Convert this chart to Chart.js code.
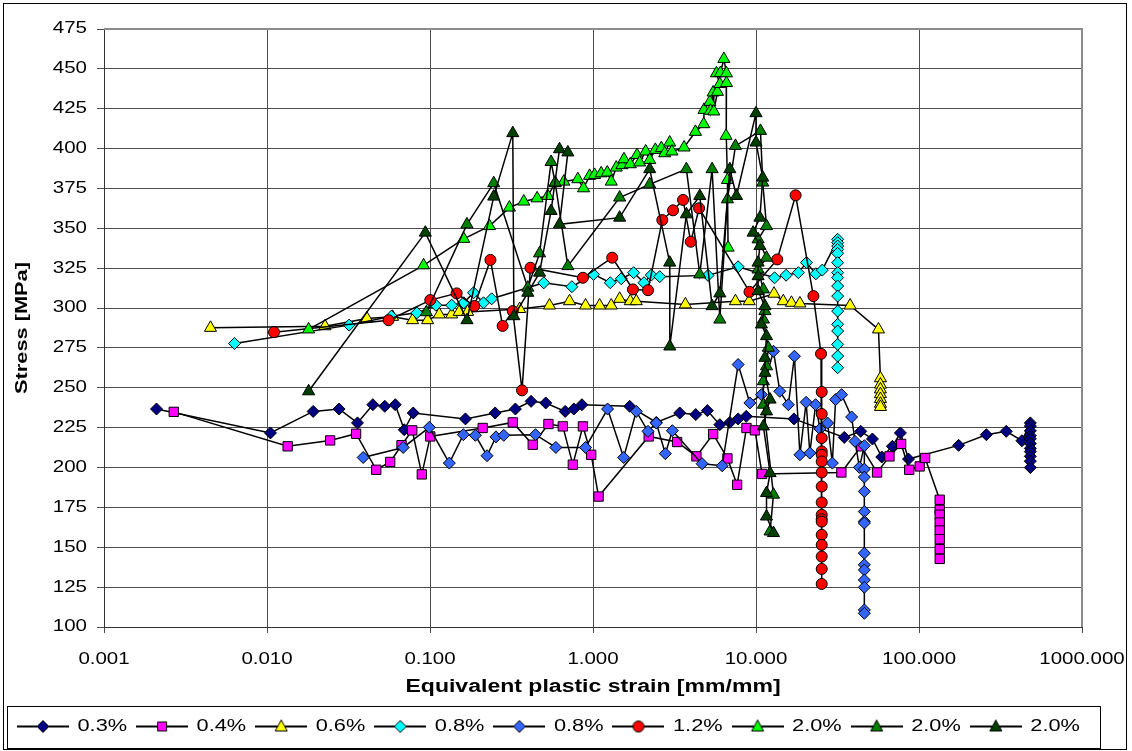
<!DOCTYPE html>
<html lang="en">
<head>
  <meta charset="UTF-8" />
  <title>Stress vs equivalent plastic strain</title>
  <script src="https://cdn.jsdelivr.net/npm/chart.js"></script>
  <style>
    html, body { margin: 0; padding: 0; background: #fff; }
    canvas { display: block; }
  </style>
</head>
<body>
  <canvas id="chart" width="1132" height="751"></canvas>

  <script>
    // axis ticks
    const strainTicks = [0.001, 0.01, 0.1, 1, 10, 100, 1000];
    const stressMin = 100, stressMax = 475, stressStep = 25;

    // 0.3 %
    const s03Strain = [0.0021, 0.0105, 0.0192, 0.0277, 0.0359, 0.0446, 0.0528, 0.0612, 0.0695, 0.0789,
      0.165, 0.251, 0.334, 0.417, 0.513, 0.675, 0.763, 0.855, 1.679, 2.445,
      3.405, 4.27, 5.03, 6.0, 6.91, 7.77, 8.71, 17.1, 34.8, 43.9,
      51.8, 59.1, 68.7, 76.9, 86.2, 175, 259, 343, 428,
      482, 482, 482, 482, 482, 482, 482, 482, 482, 482, 482];
    const s03Stress = [236.7, 221.7, 235.2, 236.7, 228, 239.4, 238.4, 239.4, 223.7, 234.2,
      230.5, 234.2, 236.7, 241.5, 240.5, 235.2, 236.7, 239.4, 238.4, 228.3,
      234.2, 233.2, 235.7, 226.9, 228.3, 230.5, 232.1, 230.5, 218.9, 222.7,
      217.9, 206.6, 213.3, 221.7, 205.3, 213.9, 220.6, 222.7, 216.8,
      228, 226, 223, 220, 218, 215, 212, 210, 207, 204, 200];

    // 0.4 %
    const s04Strain = [0.00268, 0.01339, 0.0244, 0.0352, 0.0468, 0.057, 0.0669, 0.0778, 0.0891, 0.1004,
      0.2105, 0.322, 0.427, 0.533, 0.653, 0.752, 0.867, 0.975, 1.082, 2.196,
      3.28, 4.31, 5.46, 6.68, 7.66, 8.74, 9.85, 10.9, 33.4, 44.1,
      55.3, 65.9, 77.7, 87.1, 101, 109,
      134, 134, 134, 134, 134, 134, 134, 134];
    const s04Stress = [234.9, 213.3, 217, 221.2, 198.6, 203.5, 214, 223.3, 195.7, 219.5,
      224.8, 228.3, 214.3, 227.3, 225.8, 201.8, 225.8, 208, 181.8, 219.5,
      216, 207, 221, 205.7, 189.2, 224.8, 223.3, 196, 196.9, 213.3,
      196.9, 207, 214.8, 198.6, 200.7, 206,
      179.8, 173.5, 170.4, 165.5, 160.5, 155.1, 148.8, 142.7];

    // 0.6 %
    const s06Strain = [0.0045, 0.0227, 0.041, 0.0589, 0.0782, 0.0967, 0.114, 0.1358, 0.151, 0.170,
      0.355, 0.541, 0.718, 0.90, 1.098, 1.294, 1.457, 1.693, 1.843, 3.687,
      7.48, 9.08, 12.9, 14.7, 16.5, 18.6, 37.8, 56.4,
      58, 58, 58, 58, 58, 58, 58];
    const s06Stress = [287.6, 288.6, 293.5, 294.5, 292.4, 292.4, 296, 296, 297.6, 297.6,
      299.4, 301.6, 304.3, 301.6, 301.6, 301.6, 305.8, 304.3, 304.3, 302.3,
      304.3, 304.3, 309, 304.3, 303.3, 302.9, 301.6, 286.6,
      256, 252, 249, 246, 243, 240, 238];

    // 0.8 % (cyan)
    const s08aStrain = [0.00632, 0.0319, 0.058, 0.0831, 0.1087, 0.1358, 0.161, 0.185, 0.213, 0.239,
      0.499, 0.742, 1.008, 1.276, 1.49, 1.776, 2.055, 2.279, 2.567, 5.08,
      7.77, 13.0, 15.3, 18.2, 20.4, 23.3, 25.5,
      31.7, 31.7, 31.7, 31.7, 31.7, 31.7, 31.7, 31.7, 31.7, 31.7, 31.7, 31.7, 31.7, 31.7, 31.7, 31.7];
    const s08aStress = [277.8, 289.3, 294.9, 297, 301.8, 301.8, 303.3, 309.6, 303.3, 305.8,
      315.8, 313.4, 321.1, 315.9, 318.4, 322.2, 315.9, 320.7, 319.7, 320.5,
      325.9, 319, 320.6, 322.2, 328.5, 321.5, 323.8,
      343.1, 341, 338.9, 336.8, 334.3, 328.5, 322.2, 319.1, 313.8, 307.5, 298.1, 289.8, 285.6, 277.2, 269.9, 262.6];

    // 0.8 % (blue)
    const s08bStrain = [0.0389, 0.0685, 0.099, 0.1314, 0.1602, 0.1898, 0.2238, 0.254, 0.2835, 0.4437,
      0.5916, 0.90, 1.229, 1.542, 1.843, 2.175, 2.445, 2.779, 3.068, 4.67,
      6.2, 7.77, 9.17, 10.8, 12.8, 14.0, 15.8, 17.2, 18.6, 20.3,
      21.4, 23.2, 24.7, 27.5, 29.4, 30.8, 33.5, 38.6, 40.5, 43.1, 46.2,
      46.2, 46.2, 46.2, 46.2, 46.2, 46.2, 46.2, 46.2, 46.2, 46.2, 46.2, 46.2, 46.2];
    const s08bStress = [206.3, 212.6, 225.2, 202.8, 220.6, 220.2, 207.4, 219.2, 220.2, 220.6,
      212.6, 212.6, 236.7, 206.3, 235.2, 222.7, 227.9, 208.7, 223.1, 202.4,
      201.1, 264.6, 240.5, 245.7, 272.9, 247.8, 239.4, 269.8, 208, 240.9,
      209.1, 239.4, 224.2, 227.9, 202.8, 242.6, 245.7, 231.7, 216.4, 200.1, 213.7,
      199, 194, 185, 172.4, 166.2, 165.2, 146.3, 139, 135.8, 129.5, 124.9, 110.7, 108.6];

    // 1.2 %
    const s12Strain = [0.01104, 0.0557, 0.1004, 0.1457, 0.187, 0.2348, 0.279, 0.322, 0.367, 0.4135,
      0.867, 1.312, 1.758, 2.175, 2.662, 3.098, 3.568, 3.98, 4.477, 9.12,
      13.5, 17.5, 22.5, 25.06,
      25.3, 25.3, 25.3, 25.3, 25.3, 25.3, 25.3, 25.3, 25.3, 25.3, 25.3, 25.3, 25.3, 25.3, 25.3, 25.3, 25.3];
    const s12Stress = [284.9, 292.4, 305, 309.2, 301.3, 330.2, 288.8, 298.1, 248.4, 325.3,
      319, 331.6, 311.7, 311.2, 355.2, 361.3, 367.8, 341.6, 362.6, 310.2,
      330.5, 370.7, 307.5, 271.3,
      247.4, 233.6, 218.5, 210.1, 208, 203.8, 196.9, 188.1, 178.1, 170.4, 167.6, 166.1, 157.8, 151.5, 144.2, 136.4, 127];

    // 2.0 % (light green)
    const s20aStrain = [0.018, 0.0913, 0.161, 0.2315, 0.307, 0.376, 0.454, 0.528, 0.586, 0.662,
      0.807, 0.875, 0.953, 1.023, 1.123, 1.223, 1.294, 1.389, 1.505, 1.549,
      1.693, 1.862, 1.933, 2.105, 2.228, 2.412, 2.626, 2.754, 2.955, 3.05,
      3.62, 4.25, 4.78, 4.8, 5.21, 5.25, 5.46, 5.51, 5.80, 6.0,
      5.72, 6.05, 6.35, 6.59, 6.59, 6.55, 6.68, 6.74];
    const s20aStress = [286.6, 326.8, 343.4, 351.4, 363, 366.8, 368.8, 370.3, 378.3, 379.3,
      380.8, 375.1, 382.9, 383.5, 384.5, 385, 379.3, 388.1, 389.6, 393.3,
      390.2, 396, 391.3, 398.2, 392.9, 399.2, 400.3, 397.1, 403.8, 398.2,
      400.7, 410.5, 415.3, 424.3, 429.3, 423.7, 435.2, 423.3, 435.6, 440.5,
      447.2, 447.4, 456.2, 447.2, 441.1, 408, 380.3, 337.9];

    // 2.0 % (green)
    const s20bStrain = [0.095, 0.1686, 0.246, 0.398, 0.47, 0.553, 0.586, 0.701, 1.457, 2.228,
      3.74, 4.52, 5.38, 6.0, 6.68, 7.48, 10.65, 11.0, 11.6, 10.3,
      11.6, 10.3, 11.1, 11.35, 11.1, 11.9, 11.6, 11.1, 11.1, 12.8, 12.2];
    const s20bStress = [297.4, 352.5, 378.3, 312.8, 334.3, 391.6, 378.7, 326.3, 369.3, 377.6,
      387.1, 321.1, 387.1, 292.8, 368.2, 401.7, 411.1, 378.7, 351.4, 343.1,
      331.6, 324.2, 311.7, 298.1, 292.8, 275.1, 263.5, 254.1, 239.4, 183, 159.9];

    // 2.0 % (dark green)
    const s20cStrain = [0.018, 0.0936, 0.1686, 0.246, 0.322, 0.327, 0.398, 0.47, 0.553, 0.623,
      0.701, 0.623, 1.457, 2.228, 2.955, 2.96, 3.74, 4.52, 5.38, 6.0,
      6.91, 7.59, 10.0, 10.0, 11.0, 10.57, 9.6, 10.57, 10.3, 10.3,
      10.3, 11.35, 10.8, 11.6, 11.35, 11.35, 12.2, 11.6, 11.1, 12.2,
      11.6, 11.6, 12.8];
    const s20cStress = [247.8, 347.3, 292.4, 369.9, 409.7, 294.9, 309.6, 322.2, 360.9, 399.6,
      397.6, 352.5, 356.7, 387.1, 328.5, 275.9, 358.8, 370.3, 301.2, 309.2,
      387.1, 370.3, 422.2, 403.8, 381.8, 356.7, 347.3, 338.9, 328.5, 320,
      310.6, 301.2, 289.7, 282.4, 268.8, 259.4, 242.6, 235.2, 225.8, 196.5,
      184, 169.3, 158.9];

    const series = [
      { label: '0.3%', strain: s03Strain, stress: s03Stress, color: '#000080', shape: 'rectRot', r: 6 },
      { label: '0.4%', strain: s04Strain, stress: s04Stress, color: '#FF00FF', shape: 'rect', r: 6.6 },
      { label: '0.6%', strain: s06Strain, stress: s06Stress, color: '#FFFF00', shape: 'triangle', r: 7 },
      { label: '0.8%', strain: s08aStrain, stress: s08aStress, color: '#00FFFF', shape: 'rectRot', r: 6 },
      { label: '0.8%', strain: s08bStrain, stress: s08bStress, color: '#3366FF', shape: 'rectRot', r: 6 },
      { label: '1.2%', strain: s12Strain, stress: s12Stress, color: '#FF0000', shape: 'circle', r: 5.5 },
      { label: '2.0%', strain: s20aStrain, stress: s20aStress, color: '#00FF00', shape: 'triangle', r: 7 },
      { label: '2.0%', strain: s20bStrain, stress: s20bStress, color: '#008000', shape: 'triangle', r: 7 },
      { label: '2.0%', strain: s20cStrain, stress: s20cStress, color: '#004000', shape: 'triangle', r: 7 }
    ];

    // the source picture is stretched sideways, so its text is wider than normal
    const TEXT_STRETCH = 1.28;
    const canvas = document.getElementById('chart');
    const ctx = canvas.getContext('2d');
    const rawFillText = ctx.fillText.bind(ctx);
    const rawMeasureText = ctx.measureText.bind(ctx);
    ctx.fillText = function (text, x, y) {
      ctx.save();
      ctx.translate(x, y);
      ctx.scale(TEXT_STRETCH, 1);
      rawFillText(text, 0, 0);
      ctx.restore();
    };
    ctx.measureText = function (text) {
      const m = rawMeasureText(text);
      return {
        width: m.width * TEXT_STRETCH,
        actualBoundingBoxAscent: m.actualBoundingBoxAscent,
        actualBoundingBoxDescent: m.actualBoundingBoxDescent,
        actualBoundingBoxLeft: m.actualBoundingBoxLeft * TEXT_STRETCH,
        actualBoundingBoxRight: m.actualBoundingBoxRight * TEXT_STRETCH
      };
    };

    // legend swatch: black line with the marker in the middle
    const ICON_W = 52;
    const legendIcon = (shape, fill) => {
      const c = document.createElement('canvas');
      c.width = ICON_W; c.height = 16;
      const g = c.getContext('2d');
      const cx = ICON_W / 2;
      g.strokeStyle = '#000';
      g.lineWidth = 2;
      g.beginPath(); g.moveTo(0, 8); g.lineTo(ICON_W, 8); g.stroke();
      g.fillStyle = fill;
      g.lineWidth = 1;
      g.beginPath();
      if (shape === 'rectRot') { g.moveTo(cx, 2); g.lineTo(cx + 6, 8); g.lineTo(cx, 14); g.lineTo(cx - 6, 8); g.closePath(); }
      else if (shape === 'rect') g.rect(cx - 4.5, 3.5, 9, 9);
      else if (shape === 'circle') g.arc(cx, 8, 5.5, 0, 2 * Math.PI);
      else { g.moveTo(cx, 1.5); g.lineTo(cx + 6, 12.5); g.lineTo(cx - 6, 12.5); g.closePath(); }
      g.fill(); g.stroke();
      return c;
    };
    const icons = series.map(s => legendIcon(s.shape, s.color));

    const datasets = series.map((s, i) => ({
      label: s.label,
      data: s.strain.map((x, k) => ({ x, y: s.stress[k] })),
      showLine: true,
      tension: 0,
      borderColor: '#000',
      borderWidth: 1.5,
      pointStyle: s.shape,
      pointRadius: s.r,
      pointBackgroundColor: s.color,
      pointBorderColor: '#000',
      pointBorderWidth: 1,
      xAxisID: 'x',
      yAxisID: 'y',
      order: series.length - 1 - i
    }));

    const framePlugin = {
      id: 'frame',
      beforeDatasetsDraw(chart) {
        const { ctx, chartArea: a } = chart;
        ctx.save();
        ctx.strokeStyle = '#8c8c8c';
        ctx.lineWidth = 2;
        ctx.beginPath();
        ctx.moveTo(a.left, a.top);
        ctx.lineTo(a.right, a.top);
        ctx.lineTo(a.right, a.bottom);
        ctx.stroke();
        ctx.restore();
      },
      afterDraw(chart) {
        const ctx = chart.ctx;
        ctx.save();
        ctx.strokeStyle = '#000';
        ctx.lineWidth = 1;
        ctx.strokeRect(3.5, 3.5, 1123, 746);
        ctx.strokeRect(7.5, 706.5, 1093, 42);
        ctx.restore();
      }
    };

    Chart.defaults.font.family = "'Liberation Sans', Arial, sans-serif";
    Chart.defaults.color = '#000';

    new Chart(canvas, {
      type: 'scatter',
      data: { datasets },
      options: {
        responsive: false,
        animation: false,
        devicePixelRatio: 1,
        events: [],
        layout: { padding: { left: 8, right: 0, top: 29, bottom: 6 } },
        plugins: {
          tooltip: { enabled: false },
          legend: {
            position: 'bottom',
            align: 'start',
            labels: {
              usePointStyle: true,
              pointStyleWidth: ICON_W,
              padding: 9,
              color: '#000',
              font: { size: 17 },
              sort: (a, b) => a.datasetIndex - b.datasetIndex,
              generateLabels: chart => {
                const items = Chart.defaults.plugins.legend.labels.generateLabels(chart);
                items.forEach(it => { it.pointStyle = icons[it.datasetIndex]; });
                return items;
              }
            }
          }
        },
        scales: {
          x: {
            type: 'logarithmic',
            min: strainTicks[0],
            max: strainTicks[strainTicks.length - 1],
            afterBuildTicks: s => { s.ticks = strainTicks.map(v => ({ value: v })); },
            ticks: {
              callback: v => Number(v).toFixed(3),
              autoSkip: false,
              maxRotation: 0,
              padding: 17,
              color: '#000',
              font: { size: 16 }
            },
            grid: { color: '#4d4d4d', tickLength: 6 },
            border: { color: '#333' },
            title: {
              display: true,
              text: 'Equivalent plastic strain [mm/mm]',
              color: '#000',
              font: { size: 18, weight: 'bold' },
              padding: { top: 0, bottom: 11 }
            },
            afterFit: s => {
              s.height = 82;
              // the end labels may run into the side margins
              s.paddingLeft = 0;
              s.paddingRight = 0;
            }
          },
          y: {
            min: stressMin,
            max: stressMax,
            ticks: { stepSize: stressStep, padding: 10, color: '#000', font: { size: 16 } },
            grid: { color: '#4d4d4d', tickLength: 7 },
            border: { color: '#333' },
            title: {
              display: true,
              text: 'Stress [MPa]',
              color: '#000',
              font: { size: 17, weight: 'bold' },
              padding: { top: 4, bottom: 0 }
            },
            afterFit: s => { s.width = 96; }
          },
          yRight: {
            position: 'right',
            min: 0,
            max: 1,
            ticks: { display: false },
            grid: { display: false, drawTicks: false },
            border: { display: false },
            afterFit: s => { s.width = 50; }
          }
        }
      },
      plugins: [framePlugin]
    });
  </script>
</body>
</html>
